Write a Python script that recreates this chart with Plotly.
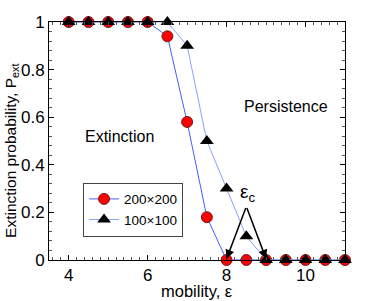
import plotly.graph_objects as go

mobility = [4, 4.5, 5, 5.5, 6, 6.5, 7, 7.5, 8, 8.5, 9, 9.5, 10, 10.5, 11]
p_200 = [1, 1, 1, 1, 1, 0.94, 0.58, 0.18, 0, 0, 0, 0, 0, 0, 0]
p_100 = [1, 1, 1, 1, 1, 1, 0.90, 0.50, 0.30, 0.10, 0, 0, 0, 0, 0]
x_ticks = [4, 6, 8, 10]
y_ticks = [0, 0.2, 0.4, 0.6, 0.8, 1]
y_tick_labels = ["0", "0.2", "0.4", "0.6", "0.8", "1"]

FONT = "Liberation Sans, Arial, sans-serif"

fig = go.Figure()
fig.add_trace(go.Scatter(
    x=mobility, y=p_200, mode="lines+markers", name="200×200",
    line=dict(color="#4060ff", width=1),
    marker=dict(symbol="circle", size=11, color="#ff0000",
                line=dict(color="#702020", width=1)),
    cliponaxis=False,
))
fig.add_trace(go.Scatter(
    x=mobility, y=p_100, mode="lines+markers", name="100×100",
    line=dict(color="#8ea0ff", width=1),
    marker=dict(symbol="triangle-up", size=12, color="#000000",
                line=dict(color="#000000", width=0)),
    cliponaxis=False,
))

axis_common = dict(
    showline=True, linecolor="black", linewidth=1, mirror="ticks",
    ticks="inside", ticklen=5, tickcolor="black", showgrid=False,
    zeroline=False, automargin=False,
    tickfont=dict(family=FONT, size=17, color="black"),
)

fig.update_xaxes(
    range=[3.5, 11], tickvals=x_ticks,
    minor=dict(ticks="inside", ticklen=3, dtick=0.2, tickcolor="#555", showgrid=False),
    **axis_common,
)
fig.update_yaxes(
    range=[0, 1], tickvals=y_ticks, ticktext=y_tick_labels,
    minor=dict(ticks="inside", ticklen=3, dtick=0.04, tickcolor="#555", showgrid=False),
    **axis_common,
)

# axis titles as annotations for precise placement
fig.add_annotation(x=0.5, y=-0.13, xref="paper", yref="paper", text="mobility, ε",
                   showarrow=False, xanchor="center", yanchor="middle",
                   font=dict(family=FONT, size=16.5, color="black"))
fig.add_annotation(x=-0.127, y=0.46, xref="paper", yref="paper",
                   text="Extinction probability, P<sub>ext</sub>", textangle=-90,
                   showarrow=False, xanchor="center", yanchor="middle",
                   font=dict(family=FONT, size=15.5, color="black"))

fig.add_annotation(x=5.29, y=0.52, text="Extinction", showarrow=False,
                   font=dict(family=FONT, size=16, color="black"))
fig.add_annotation(x=9.51, y=0.647, text="Persistence", showarrow=False,
                   font=dict(family=FONT, size=16, color="black"))
fig.add_annotation(x=8.52, y=0.28, text="ε<sub>c</sub>", showarrow=False,
                   font=dict(family=FONT, size=19, color="black"))
for tx in [8, 9]:
    fig.add_annotation(x=tx, y=0.005, ax=8.5, ay=0.225, xref="x", yref="y",
                       axref="x", ayref="y", text="", showarrow=True,
                       arrowhead=2, arrowsize=1.2, arrowwidth=1.5, arrowcolor="black")

fig.update_layout(
    width=382, height=301,
    margin=dict(l=49, r=37, t=22, b=41),
    paper_bgcolor="white", plot_bgcolor="white",
    font=dict(family=FONT, color="black"),
    legend=dict(x=0.115, y=0.325, xanchor="left", yanchor="top",
                bgcolor="white", bordercolor="#444", borderwidth=1,
                font=dict(family=FONT, size=13.5, color="black"),
                itemwidth=30, tracegroupgap=0),
    showlegend=True,
)

fig.write_html("out.html", config={"displayModeBar": False},
               post_script="document.body.style.margin='0';")
